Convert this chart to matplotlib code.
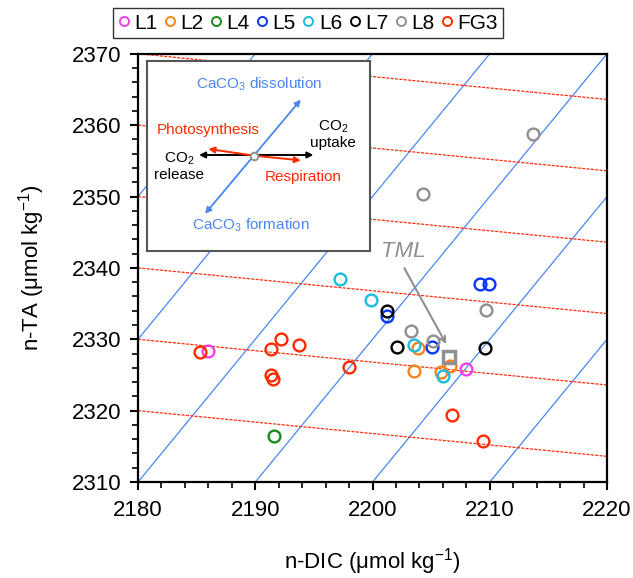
import matplotlib
matplotlib.use("Agg")
import matplotlib.pyplot as plt
from matplotlib.ticker import MultipleLocator
from matplotlib.lines import Line2D
import numpy as np

plt.rcParams['font.family'] = ['Liberation Sans', 'DejaVu Sans']
plt.rcParams['mathtext.fontset'] = 'custom'
plt.rcParams['mathtext.rm'] = 'Liberation Sans'
plt.rcParams['mathtext.it'] = 'Liberation Sans:italic'

# ---- data ----
groups = ["L1", "L2", "L4", "L5", "L6", "L7", "L8", "FG3"]
colors = ["#f040e8", "#f7831e", "#1a8c1a", "#0a36f5", "#1cbcdc", "#000000", "#8f8f8f", "#ff2a00"]

L1_dic = [2186.0, 2208.0]
L1_ta = [2328.3, 2325.8]
L2_dic = [2203.9, 2203.5, 2205.8, 2206.6]
L2_ta = [2328.8, 2325.5, 2325.4, 2326.2]
L4_dic = [2191.6]
L4_ta = [2316.5]
L5_dic = [2201.2, 2205.1, 2209.2, 2209.9]
L5_ta = [2333.3, 2328.9, 2337.8, 2337.7]
L6_dic = [2197.2, 2199.9, 2203.5, 2206.0]
L6_ta = [2338.4, 2335.5, 2329.2, 2324.9]
L7_dic = [2201.2, 2202.1, 2209.6]
L7_ta = [2334.0, 2328.9, 2328.8]
L8_dic = [2213.7, 2204.3, 2209.7, 2203.3, 2205.2]
L8_ta = [2358.7, 2350.4, 2334.1, 2331.2, 2329.7]
FG3_dic = [2185.3, 2191.3, 2192.2, 2193.7, 2191.3, 2191.5, 2198.0, 2206.8, 2209.4]
FG3_ta = [2328.2, 2328.7, 2330.1, 2329.2, 2325.0, 2324.5, 2326.1, 2319.4, 2315.8]

tml_dic = [2206.5]
tml_ta = [2327.5]

# guide lines
caco3_slope = 2.0
caco3_x0 = [2150, 2160, 2170, 2180, 2190, 2200, 2210]   # at TA = 2310
org_slope = -0.16
org_ta0 = [2320, 2330, 2340, 2350, 2360, 2370]          # at DIC = 2180

xlim = (2180, 2220)
ylim = (2310, 2370)
xticks = [2180, 2190, 2200, 2210, 2220]
yticks = [2310, 2320, 2330, 2340, 2350, 2360, 2370]

series = [(L1_dic, L1_ta), (L2_dic, L2_ta), (L4_dic, L4_ta), (L5_dic, L5_ta),
          (L6_dic, L6_ta), (L7_dic, L7_ta), (L8_dic, L8_ta), (FG3_dic, FG3_ta)]

fig = plt.figure(figsize=(6.33, 5.78), dpi=100)
ax = fig.add_axes([0.218, 0.166, 0.741, 0.741])

xx = np.array(xlim, dtype=float)
for x0 in caco3_x0:
    ax.plot(xx, ylim[0] + caco3_slope * (xx - x0), color="#4a86f0", lw=0.9, zorder=1)
for t0 in org_ta0:
    ax.plot(xx, t0 + org_slope * (xx - xlim[0]), color="#ff3010", lw=0.9,
            ls=(0, (2.5, 1)), zorder=1)

for (dx, ty), c in zip(series, colors):
    ax.plot(dx, ty, ls="none", marker="o", ms=8.5, mfc="none", mec=c, mew=1.7, zorder=3)

ax.plot(tml_dic, tml_ta, ls="none", marker="s", ms=8.5, mfc="none", mec="#8f8f8f", mew=2.5, zorder=4)
ax.annotate("", xy=(2206.4, 2329.0), xytext=(2202.6, 2340.3),
            arrowprops=dict(arrowstyle="->", color="#8f8f8f", lw=1.5), zorder=4)
ax.text(2202.6, 2342.3, "TML", color="#8f8f8f", fontsize=16, style="italic",
        ha="center", va="center")

ax.set_xlim(*xlim)
ax.set_ylim(*ylim)
ax.set_xticks(xticks)
ax.set_yticks(yticks)
ax.xaxis.set_minor_locator(MultipleLocator(2))
ax.yaxis.set_minor_locator(MultipleLocator(2))
ax.tick_params(which="major", length=6, width=1.5, labelsize=16, direction="out")
ax.tick_params(which="minor", length=4, width=1.2, direction="out")
ax.tick_params(axis="x", pad=7)
ax.tick_params(axis="y", pad=6)
for s in ax.spines.values():
    s.set_linewidth(1.6)
ax.set_xlabel("n-DIC (μmol kg$^{-1}$)", fontsize=16, labelpad=18)
ax.set_ylabel("n-TA (μmol kg$^{-1}$)", fontsize=16, labelpad=18)

# ---- inset diagram ----
ins = fig.add_axes([0.218 + 0.741 * 0.0186, 0.166 + 0.741 * 0.540,
                    0.741 * (0.495 - 0.0186), 0.741 * (0.984 - 0.540)])
ins.set_xlim(0, 1)
ins.set_ylim(0, 1)
ins.set_xticks([])
ins.set_yticks([])
for s in ins.spines.values():
    s.set_edgecolor("#555555")
    s.set_linewidth(1.5)
ins.set_zorder(5)

def fx(px):
    return (px - 146.7) / (370 - 146.7)

def fy(py):
    return (251 - py) / (251 - 61)

cx, cy = fx(254.3), fy(156)
blue = "#4a86f0"
ins.annotate("", xy=(fx(300.7), fy(100)), xytext=(fx(205), fy(214)),
             arrowprops=dict(arrowstyle="<|-|>", color=blue, lw=1.3, mutation_scale=9,
                             shrinkA=0, shrinkB=0))
ins.annotate("", xy=(fx(313.3), fy(155.3)), xytext=(fx(199), fy(155.3)),
             arrowprops=dict(arrowstyle="<|-|>", color="black", lw=1.4, mutation_scale=9,
                             shrinkA=0, shrinkB=0))
ins.annotate("", xy=(fx(208.3), fy(149.3)), xytext=(cx, cy),
             arrowprops=dict(arrowstyle="-|>", color="#ff2a00", lw=1.4, mutation_scale=9,
                             shrinkA=0, shrinkB=0))
ins.annotate("", xy=(fx(300.7), fy(160.7)), xytext=(cx, cy),
             arrowprops=dict(arrowstyle="-|>", color="#ff2a00", lw=1.4, mutation_scale=9,
                             shrinkA=0, shrinkB=0))
ins.plot([cx], [cy], marker="o", ms=5.5, mfc="white", mec="#8f8f8f", mew=1.4, zorder=6)

fs = 11
ins.text(fx(259.3), fy(84.3), "CaCO$_3$ dissolution", color=blue, fontsize=fs, ha="center", va="center")
ins.text(fx(251), fy(226), "CaCO$_3$ formation", color=blue, fontsize=fs, ha="center", va="center")
ins.text(fx(208.3), fy(130), "Photosynthesis", color="#ff2a00", fontsize=fs, ha="center", va="center")
ins.text(fx(303.3), fy(177.3), "Respiration", color="#ff2a00", fontsize=fs, ha="center", va="center")
ins.text(fx(332.7), fy(135), "CO$_2$\nuptake", color="black", fontsize=fs, ha="center", va="center",
         linespacing=1.1)
ins.text(fx(179), fy(166.7), "CO$_2$\nrelease", color="black", fontsize=fs, ha="center", va="center",
         linespacing=1.1)

# ---- legend ----
handles = [Line2D([], [], ls="none", marker="o", ms=6.5, mfc="none", mec=c, mew=1.4) for c in colors]
leg = fig.legend(handles, groups, loc="center", bbox_to_anchor=(0.487, 0.960), ncol=8,
                 fontsize=15, frameon=True, fancybox=False, edgecolor="black",
                 handlelength=0.5, handletextpad=0.25, columnspacing=0.35,
                 borderpad=0.25, borderaxespad=0)
leg.get_frame().set_linewidth(1.0)

fig.savefig("out.png", dpi=100)
